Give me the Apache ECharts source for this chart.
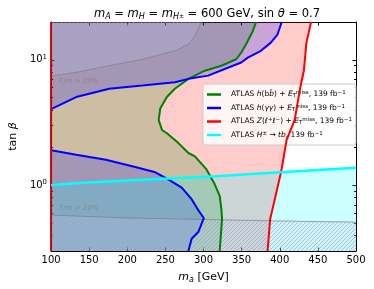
<!DOCTYPE html>
<html>
<head>
<meta charset="utf-8">
<script src="https://cdn.jsdelivr.net/npm/echarts@6/dist/echarts.min.js"></script>
<style>html,body{margin:0;padding:0;background:#fff;}#c{width:374px;height:289px;}</style>
</head>
<body>
<div id="c"></div>
<script>
// ---- data ----
const xMin = 100, xMax = 500, xStep = 50;
const yMin = 0.3, yMax = 20;
const yMajorTicks = [1, 10];
const yMinorTicks = [0.3,0.4,0.5,0.6,0.7,0.8,0.9,2,3,4,5,6,7,8,9,20];

// Z(ll)+MET contour (x = m_a, y = tan beta), bottom -> top
const redCurve = [[384,0.3],[387.4,0.54],[393.5,0.776],[402,1.3],[409,2.3],[419.5,3.31],[427,6.05],[431.6,8.19],[435,13.7],[441,20]];
// h(bb)+MET contour, top -> bottom
const greenCurve = [[369,20],[364.5,16.9],[355.8,13.3],[349.4,11.4],[342.9,10.1],[323.4,8.97],[301.7,8.19],[280.1,7.05],[262.3,5.88],[251.9,5.05],[243.2,4.09],[241.2,3.31],[245.5,2.76],[251.9,2.6],[267.1,2.17],[280.1,1.81],[288.7,1.7],[303.9,1.34],[314.7,1.02],[321.2,0.824],[323.4,0.647],[324.3,0.54],[321.2,0.3]];
// h(gamma gamma)+MET contours
const blueUpper = [[100,4.04],[132.9,5.05],[176.2,5.88],[219.5,6.24],[262.7,6.63],[280.1,7.05],[306.1,7.48],[327.7,8.45],[349.4,9.52],[358.1,10.4],[375.3,11.8],[388.3,13.7],[397,15.9],[402.6,20]];
const blueLower = [[100,1.9],[132.9,1.75],[171.8,1.6],[206.5,1.42],[236.8,1.27],[254.2,1.11],[271.4,0.959],[284.4,0.776],[292.2,0.647],[300.4,0.547],[293.1,0.425],[284.4,0.376],[280.1,0.3]];
// H+- -> tb
const cyanCurve = [[100,1.0],[130,1.04],[220,1.11],[315,1.18],[400,1.27],[500,1.38]];
// Gamma/m > 20% boundaries
const gammaUpper = [[100,7.41],[132.9,7.94],[176.2,8.97],[219.5,10.1],[262.7,11.8],[280.1,13.3],[288.7,15.5],[293.1,17.9],[297.4,20]];
const gammaLower = [[100,0.58],[200,0.55],[300,0.535],[400,0.52],[500,0.51]];
const gammaLabels = [[111,6.7,'Γ/m > 20%'],[111,0.66,'Γ/m > 20%']];

const seriesNames = ['hbb','hgg','zll','hpm'];
const legendText = {
  hbb: 'ATLAS {i|h}(b{i|b̄}) + {i|E}{sub|T}{sup|miss}, 139 fb{sup|−1}',
  hgg: 'ATLAS {i|h}({i|γγ}) + {i|E}{sub|T}{sup|miss}, 139 fb{sup|−1}',
  zll: 'ATLAS {i|Z}({i|ℓ}{sup|+}{i|ℓ}{sup|−}) + {i|E}{sub|T}{sup|miss}, 139 fb{sup|−1}',
  hpm: 'ATLAS {i|H}{sup|±} → {i|tb}, 139 fb{sup|−1}'
};

// ---- styling helpers ----
const FONT = 'DejaVu Sans';
function hatch() {
  const c = document.createElement('canvas');
  c.width = 4; c.height = 4;
  const g = c.getContext('2d');
  g.strokeStyle = 'rgba(160,160,175,0.75)';
  g.lineWidth = 0.8;
  g.beginPath();
  g.moveTo(0,4); g.lineTo(4,0);
  g.moveTo(-1,1); g.lineTo(1,-1);
  g.moveTo(3,5); g.lineTo(5,3);
  g.stroke();
  return c;
}
const hatchImg = hatch();

function poly(pts, style, z) {
  return {
    type: 'custom', coordinateSystem: 'cartesian2d', silent: true, z: z,
    data: [pts[0]],
    renderItem: function (params, api) {
      return { type: 'polygon', shape: { points: pts.map(p => api.coord(p)) }, style: style };
    }
  };
}
function line(name, pts, color, w, z) {
  return { type: 'line', name: name, data: pts, symbol: 'none', smooth: false, z: z,
    lineStyle: { color: color, width: w }, itemStyle: { color: color }, silent: true, animation: false };
}

const redRegion = redCurve.concat([[100,20],[100,0.3]]);
const greenRegion = greenCurve.concat([[100,0.3],[100,20]]);
const blueUpRegion = blueUpper.concat([[100,20]]);
const blueLoRegion = blueLower.concat([[100,0.3]]);
const cyanRegion = cyanCurve.concat([[500,0.3],[100,0.3]]);
const gammaUpRegion = gammaUpper.concat([[100,20]]);
const gammaLoRegion = gammaLower.concat([[500,0.3],[100,0.3]]);

const gammaFill = 'rgba(200,205,255,0.22)';
const rich = {
  i: { fontStyle: 'italic', fontFamily: FONT, fontSize: 7.5, color: '#000' },
  sub: { fontSize: 5.5, fontFamily: FONT, verticalAlign: 'bottom', padding: [3,0,0,0], color: '#000' },
  sup: { fontSize: 5.5, fontFamily: FONT, verticalAlign: 'top', padding: [0,0,3,0], color: '#000' }
};

const chart = echarts.init(document.getElementById('c'), null, { renderer: 'canvas' });
const baseY = { type: 'log', logBase: 10, min: yMin, max: yMax, splitLine: { show: false } };
const option = {
  animation: false,
  backgroundColor: '#fff',
  title: {
    text: '{i|m}{s|A} = {i|m}{s|H} = {i|m}{s|H}{p|±} = 600 GeV, sin {i|θ} = 0.7',
    left: 202, top: 3, textAlign: 'center',
    textStyle: { fontFamily: FONT, fontSize: 11.5, fontWeight: 'normal', color: '#000',
      rich: {
        i: { fontStyle: 'italic', fontFamily: FONT, fontSize: 11.5, color: '#000' },
        s: { fontStyle: 'italic', fontFamily: FONT, fontSize: 8, verticalAlign: 'bottom', padding: [5,0,0,0], color: '#000' },
        p: { fontFamily: FONT, fontSize: 6, verticalAlign: 'bottom', padding: [0,0,2,0], color: '#000' }
      } }
  },
  grid: { left: 48, top: 22, right: 18, bottom: 38 },
  legend: {
    orient: 'vertical', left: 203, top: 84, data: seriesNames,
    icon: 'rect', itemWidth: 14, itemHeight: 2.5, itemGap: 4.5,
    padding: [6, 4, 6, 4],
    backgroundColor: 'rgba(255,255,255,0.8)', borderColor: '#cccccc', borderWidth: 1, borderRadius: 2,
    formatter: n => legendText[n],
    textStyle: { fontFamily: FONT, fontSize: 7.5, color: '#000', padding: [0,0,0,5], rich: rich },
    selectedMode: false
  },
  xAxis: [
    { type: 'value', min: xMin, max: xMax, interval: xStep, position: 'bottom',
      name: '{i|m}{s|a} [GeV]', nameLocation: 'middle', nameGap: 20,
      nameTextStyle: { fontFamily: FONT, fontSize: 11, color: '#000',
        rich: { i: { fontStyle: 'italic', fontFamily: FONT, fontSize: 11, color: '#000' },
                s: { fontStyle: 'italic', fontFamily: FONT, fontSize: 8, verticalAlign: 'bottom', padding: [5,0,0,0], color: '#000' } } },
      axisLine: { lineStyle: { color: '#000', width: 1 } },
      axisTick: { inside: true, length: 3.5, lineStyle: { color: '#000' } },
      axisLabel: { fontFamily: FONT, fontSize: 10, color: '#000', margin: 4 },
      splitLine: { show: false } },
    { type: 'value', min: xMin, max: xMax, interval: xStep, position: 'top',
      axisLine: { lineStyle: { color: '#000', width: 1 } },
      axisTick: { inside: true, length: 3.5, lineStyle: { color: '#000' } },
      axisLabel: { show: false }, splitLine: { show: false } }
  ],
  yAxis: [
    Object.assign({}, baseY, { position: 'left',
      name: 'tan {i|β}', nameLocation: 'middle', nameGap: 29,
      nameTextStyle: { fontFamily: FONT, fontSize: 11, color: '#000',
        rich: { i: { fontStyle: 'italic', fontFamily: FONT, fontSize: 11, color: '#000' } } },
      axisLine: { lineStyle: { color: '#000', width: 1 } },
      axisTick: { inside: true, length: 3.5, customValues: yMajorTicks, lineStyle: { color: '#000' } },
      axisLabel: { customValues: yMajorTicks, fontFamily: FONT, fontSize: 10, color: '#000', margin: 4,
        formatter: v => '10{sup|' + Math.round(Math.log10(v)) + '}',
        rich: { sup: { fontFamily: FONT, fontSize: 7, verticalAlign: 'top', padding: [0,0,6,0], color: '#000' } } } }),
    Object.assign({}, baseY, { position: 'left',
      axisLine: { show: false },
      axisTick: { inside: true, length: 2, customValues: yMinorTicks, lineStyle: { color: '#000' } },
      axisLabel: { show: false } }),
    Object.assign({}, baseY, { position: 'right',
      axisLine: { lineStyle: { color: '#000', width: 1 } },
      axisTick: { inside: true, length: 3.5, customValues: yMajorTicks, lineStyle: { color: '#000' } },
      axisLabel: { show: false } }),
    Object.assign({}, baseY, { position: 'right',
      axisLine: { show: false },
      axisTick: { inside: true, length: 2, customValues: yMinorTicks, lineStyle: { color: '#000' } },
      axisLabel: { show: false } })
  ],
  series: [
    poly(redRegion, { fill: 'rgba(255,0,0,0.2)' }, 1),
    poly(greenRegion, { fill: 'rgba(0,128,0,0.2)' }, 1),
    poly(blueUpRegion, { fill: 'rgba(0,0,255,0.2)' }, 1),
    poly(blueLoRegion, { fill: 'rgba(0,0,255,0.2)' }, 1),
    poly(cyanRegion, { fill: 'rgba(0,255,255,0.2)' }, 1),
    poly(gammaUpRegion, { fill: gammaFill }, 1),
    poly(gammaLoRegion, { fill: gammaFill }, 1),
    poly(gammaUpRegion, { fill: { image: hatchImg, repeat: 'repeat' } }, 1),
    poly(gammaLoRegion, { fill: { image: hatchImg, repeat: 'repeat' } }, 1),
    line('gammaU', gammaUpper, 'rgba(128,128,128,0.7)', 1, 2),
    line('gammaL', gammaLower, 'rgba(128,128,128,0.7)', 1, 2),
    {
      type: 'custom', coordinateSystem: 'cartesian2d', silent: true, z: 3, data: gammaLabels,
      renderItem: function (params, api) {
        const p = api.coord([api.value(0), api.value(1)]);
        return { type: 'text', x: p[0], y: p[1],
          style: { text: gammaLabels[params.dataIndex][2], fontFamily: FONT, fontSize: 7,
            fill: 'rgba(128,128,128,0.75)', verticalAlign: 'middle', align: 'left' } };
      }
    },
    line('hbb', greenCurve, '#008000', 2, 4),
    line('hgg', blueUpper, '#0000ff', 2, 4),
    line('hgg', blueLower, '#0000ff', 2, 4),
    line('zll', redCurve, '#ff0000', 2, 4),
    line('zll', [[100,0.3],[100,20]], '#cc0000', 2, 4),
    line('hpm', cyanCurve, '#00ffff', 2.5, 5)
  ]
};
chart.setOption(option);
</script>
</body>
</html>
